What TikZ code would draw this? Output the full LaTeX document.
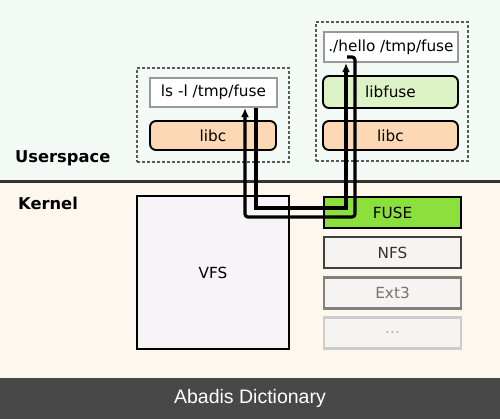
\documentclass[tikz,border=0pt]{standalone}
\usepackage{fontspec}
\setmainfont{DejaVu Sans}
\newfontfamily\bannerfont{Liberation Sans}
\usepackage{tikz}
\usetikzlibrary{positioning,arrows.meta,calc}
\usepackage{xcolor}
\definecolor{userbg}{HTML}{F3F9F5}
\definecolor{kernbg}{HTML}{FDF7EE}
\definecolor{bannerbg}{HTML}{484848}
\definecolor{libcfill}{HTML}{FCD9B4}
\definecolor{libfusefill}{HTML}{DDF2C5}
\definecolor{fusefill}{HTML}{8BE03C}
\definecolor{vfsfill}{HTML}{F6F4F6}
\definecolor{fsfill}{HTML}{F6F4F1}

\begin{document}
\begin{tikzpicture}[x=1pt,y=-1pt,
  every node/.style={inner sep=0pt,font=\fontsize{15.3}{18}\selectfont},
  group/.style={draw=black!65,dashed,dash pattern=on 3pt off 2pt,line width=1.2pt},
  cmd/.style={draw=black!40,fill=white,line width=2.2pt,minimum height=29pt},
  lib/.style={draw=black,rounded corners=6pt,line width=1.9pt,minimum width=126pt,minimum height=29pt},
  fsbox/.style={line width=2.2pt,minimum width=137pt,minimum height=31pt},
  label/.style={anchor=west,font=\fontsize{16.3}{19}\selectfont\bfseries},
  conn/.style={line width=3.2pt,black},
  tip/.style={-{Latex[length=9pt,width=8pt]}}]
\useasboundingbox (0,0) rectangle (500,419);
% backgrounds
\fill[userbg] (0,0) rectangle (500,182);
\fill[kernbg] (0,182) rectangle (500,378);
\fill[bannerbg] (0,378) rectangle (500,419);
\draw[black!80,line width=3pt] (0,182) -- (500,182);
\node[label] (user) at (15,158) {Userspace};
\node[label] (kern) at (18,203) {Kernel};
% userspace programs
\node[group,minimum width=152pt,minimum height=94pt] (progA) at (213,115) {};
\node[group,minimum width=152pt,minimum height=139pt] (progB) at (392,91.5) {};
\node[cmd,minimum width=127pt] (ls) at (213.5,92.5) {ls -l /tmp/fuse};
\node[lib,fill=libcfill] (libcA) at (213,135.5) {libc};
\node[cmd,minimum width=134pt,minimum height=30pt] (hello) at (391,47) {./hello /tmp/fuse};
\node[lib,fill=libfusefill,minimum width=135pt,minimum height=32pt] (libfuse) at (390.5,92) {libfuse};
\node[lib,fill=libcfill,minimum width=135pt] (libcB) at (390.5,135.5) {libc};
% kernel
\node[draw=black,fill=vfsfill,line width=2.2pt,minimum width=152pt,minimum height=153pt] (vfs) at (213,272.5) {VFS};
\node[fsbox,draw=black,fill=fusefill] (fuse) at (392.5,212.5) {FUSE};
\node[fsbox,draw=black!75,fill=fsfill,text=black!80] (nfs) at (392.5,252.5) {NFS};
\node[fsbox,draw=black!50,fill=fsfill,text=black!55] (ext) at (392.5,293) {Ext3};
\node[fsbox,draw=black!20,fill=fsfill,text=black!30] (more) at (392.5,333) {\dots};
% request / reply
\coordinate (inner) at (300,208);
\coordinate (outer) at (355,217);
\coordinate (hook) at (347,57);
\draw[conn,tip] ([xshift=42.5pt]ls.south) |- (inner) -| ([xshift=-45pt]hello.south);
\draw[conn,tip,rounded corners=3pt] (hook) -| (outer) -| ([xshift=31.5pt]ls.south);
\node[font=\bannerfont\fontsize{19.5}{22}\selectfont,text=white] (banner) at (250,398.5) {Abadis Dictionary};
\end{tikzpicture}
\end{document}
